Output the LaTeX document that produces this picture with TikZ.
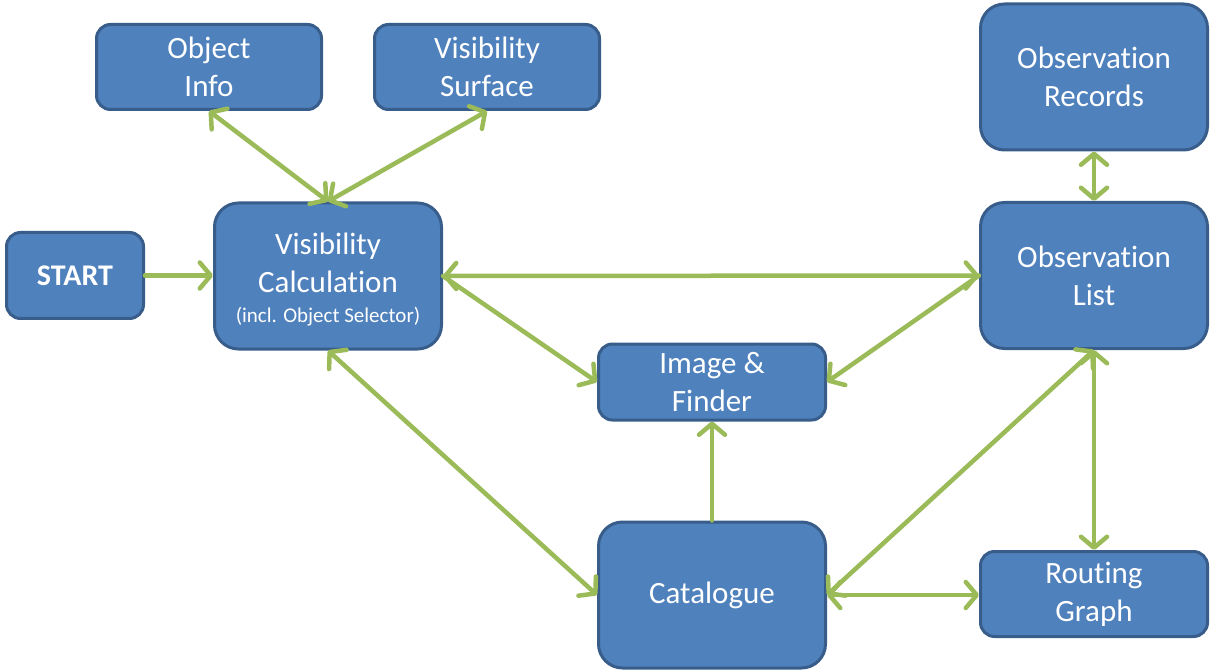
\documentclass[tikz,border=0pt]{standalone}
\usepackage{fontspec}
\setmainfont[Ligatures=NoCommon]{Carlito}
\usetikzlibrary{arrows.meta}
\definecolor{boxfill}{HTML}{4F81BD}
\definecolor{boxline}{HTML}{385D8A}
\definecolor{arrgreen}{HTML}{9BBB59}
\tikzset{
  box/.style={draw=boxline, fill=boxfill, line width=3pt, text=white, align=center,
    inner sep=0pt, font=\fontsize{31}{38}\selectfont},
  smallbox/.style={box, rounded corners=14pt, minimum width=225pt, minimum height=85pt},
  bigbox/.style={box, rounded corners=24pt, minimum width=227pt, minimum height=146pt},
  boxtext/.style={text=white, align=center, inner sep=0pt, font=\fontsize{31}{38}\selectfont},
  conn/.style={draw=arrgreen, line width=4.5pt, line cap=round},
  tip/.style={-{Straight Barb[length=11pt,width=26pt,round]}},
  tips/.style={{Straight Barb[length=11pt,width=26pt,round]}-{Straight Barb[length=11pt,width=26pt,round]}}
}
\begin{document}
\begin{tikzpicture}[x=1pt,y=-1pt]
\useasboundingbox (0,0) rectangle (1211,671);
\node[smallbox] (oi) at (209,67) {Object\\Info};
\node[smallbox] (vs) at (487,67) {Visibility\\Surface};
\node[box, rounded corners=14pt, minimum width=137pt, minimum height=86pt, font=\fontsize{30}{36}\selectfont\bfseries] (st) at (75,275.5) {START};
\node[bigbox] (vc) at (328,276) {};
\node[boxtext] (vct) at ([yshift=-4pt]vc.center) {Visibility\\Calculation\\[-8pt]{\fontsize{21}{26}\selectfont (incl. Object Selector)}};
\node[box, rounded corners=14pt, minimum width=227pt, minimum height=76pt] (im) at (712,382) {Image \&\\Finder};
\node[bigbox] (ca) at (712,595) {Catalogue};
\node[bigbox] (or) at (1094,77) {Observation\\Records};
\node[bigbox] (ol) at (1094,275.5) {Observation\\List};
\node[smallbox, minimum width=227pt] (rg) at (1094,594) {Routing\\Graph};

\draw[conn, tip] (st.east) -- (vc.west |- st.east);
\draw[conn, tips] (oi.south) -- (vc.north);
\draw[conn, tips] (vs.south) -- (vc.north);
\draw[conn, tips] (vc.east) -- (ol.west);
\draw[conn, tip] (vc.east) -- (im.west);
\draw[conn, tip] (ol.west) -- (im.east);
\draw[conn, tips] (vc.south) -- (ca.west);
\draw[conn, tip] (ca.north) -- (im.south);
\draw[conn, tips] (ca.east) -- (ol.south);
\draw[conn, tips] (ol.south) -- (rg.north);
\draw[conn, tips] (ca.east) -- (rg.west |- ca.east);
\draw[conn, tips] (or.south) -- (ol.north);
\end{tikzpicture}
\end{document}
